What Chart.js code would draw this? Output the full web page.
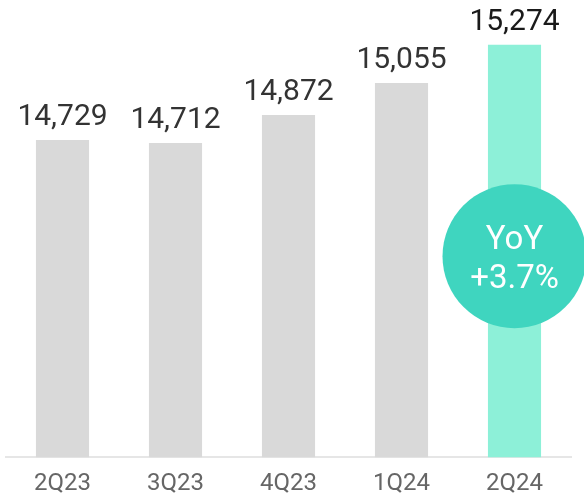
<!DOCTYPE html>
<html>
<head>
<meta charset="utf-8">
<script src="https://cdn.jsdelivr.net/npm/chart.js@4"></script>
<style>
  html, body { margin: 0; padding: 0; background: #fff; }
  #wrap { width: 584px; height: 498px; }
</style>
</head>
<body>
<div id="wrap"><canvas id="salesChart"></canvas></div>
<script>
  const quarters = ['2Q23', '3Q23', '4Q23', '1Q24', '2Q24'];
  const sales = [14729, 14712, 14872, 15055, 15274];
  const barColors = ['#d9d9d9', '#d9d9d9', '#d9d9d9', '#d9d9d9', '#8df0d8'];
  const labelColors = ['#333333', '#333333', '#333333', '#333333', '#1a1a1a'];
  const yoyLines = ['YoY', '+3.7%'];

  // value labels above each bar
  const valueLabels = {
    id: 'valueLabels',
    afterDatasetsDraw(chart) {
      const ctx = chart.ctx;
      const meta = chart.getDatasetMeta(0);
      ctx.save();
      ctx.font = '30px Roboto';
      ctx.textAlign = 'center';
      ctx.textBaseline = 'alphabetic';
      meta.data.forEach((bar, i) => {
        ctx.fillStyle = labelColors[i];
        ctx.fillText(sales[i].toLocaleString('en-US'), bar.x, bar.y - 15);
      });
      ctx.restore();
    }
  };

  // YoY badge on the latest bar
  const yoyBadge = {
    id: 'yoyBadge',
    afterDatasetsDraw(chart) {
      const ctx = chart.ctx;
      const bar = chart.getDatasetMeta(0).data[sales.length - 1];
      const cy = chart.chartArea.bottom - 201;
      ctx.save();
      ctx.beginPath();
      ctx.arc(bar.x, cy, 72, 0, Math.PI * 2);
      ctx.fillStyle = '#3fd5bf';
      ctx.fill();
      ctx.fillStyle = '#ffffff';
      ctx.font = '33px Roboto';
      ctx.textAlign = 'center';
      ctx.textBaseline = 'alphabetic';
      ctx.fillText(yoyLines[0], bar.x, cy - 7);
      ctx.fillText(yoyLines[1], bar.x, cy + 32);
      ctx.restore();
    }
  };

  new Chart(document.getElementById('salesChart'), {
    type: 'bar',
    data: {
      labels: quarters,
      datasets: [{
        data: sales,
        backgroundColor: barColors,
        borderWidth: 0,
        barPercentage: 0.47,
        categoryPercentage: 1
      }]
    },
    options: {
      responsive: true,
      maintainAspectRatio: false,
      animation: false,
      layout: { padding: { left: 6, right: 13, top: 0, bottom: -12 } },
      plugins: { legend: { display: false }, tooltip: { enabled: false } },
      scales: {
        x: {
          grid: { display: false, drawTicks: false },
          border: { display: true, color: '#e6e6e6', width: 2 },
          ticks: { color: '#666666', font: { family: 'Roboto', size: 24 }, padding: 12 }
        },
        y: {
          display: false,
          min: 12915,
          max: 15530
        }
      }
    },
    plugins: [valueLabels, yoyBadge]
  });
</script>
</body>
</html>
